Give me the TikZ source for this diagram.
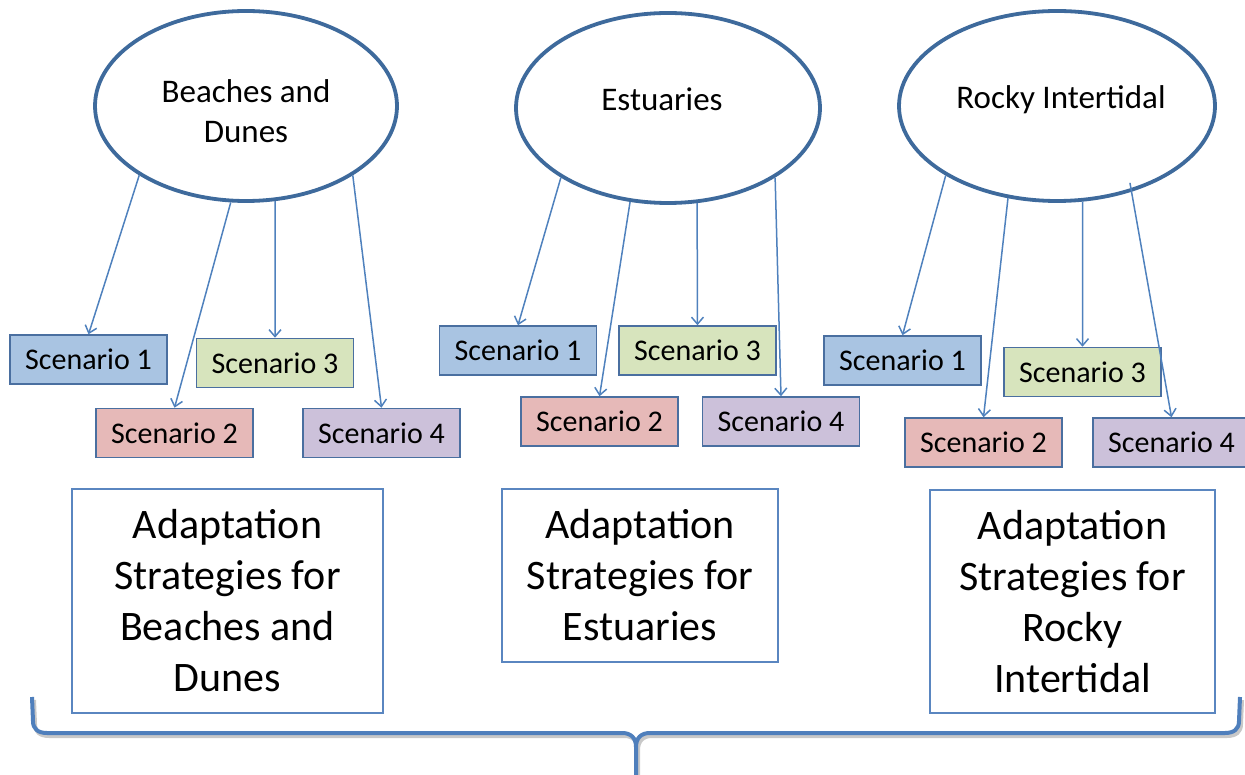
\documentclass[tikz,border=0pt]{standalone}
\usepackage{fontspec}
\setmainfont{Carlito}
\usetikzlibrary{shapes.geometric,arrows.meta}

\newlength{\du}
\setlength{\du}{1pt}

\definecolor{ellline}{HTML}{3E6A9C}
\definecolor{linkline}{HTML}{4F81BD}
\definecolor{scenline}{HTML}{4A6FA0}
\definecolor{stratline}{HTML}{5A86C0}
\definecolor{braceline}{HTML}{4F7FBC}
\definecolor{braceshadow}{HTML}{C8C8C8}
\definecolor{scenblue}{HTML}{A9C4E2}
\definecolor{scenred}{HTML}{E6B9B8}
\definecolor{scengreen}{HTML}{D7E4BD}
\definecolor{scenviolet}{HTML}{CCC1DA}

\tikzset{
  habitat/.style={ellipse, draw=ellline, line width=3.8\du, fill=white,
    minimum height=190\du, inner sep=0pt},
  habtext/.style={font=\fontsize{33}{40}\selectfont, align=center},
  scen/.style={rectangle, draw=scenline, line width=1.5\du,
    minimum width=157\du, minimum height=49\du, inner sep=0pt,
    font=\fontsize{30}{36}\selectfont},
  strat/.style={rectangle, draw=stratline, line width=2\du, fill=white,
    inner sep=0pt, align=center, font=\fontsize{42}{51}\selectfont},
  link/.style={draw=linkline, line width=1.5\du,
    -{Straight Barb[length=7pt,width=12pt]}},
}

\begin{document}
\begin{tikzpicture}
\pgftransformxscale{1.000000}
\pgftransformyscale{-1.000000}
\useasboundingbox (0\du,0\du) rectangle (1245\du,775\du);

% brace under the strategies
\draw[draw=braceline, line width=4\du, line join=round,
  preaction={draw=braceshadow, line width=4\du, transform canvas={xshift=2\du,yshift=-3\du}}]
  (32\du,697\du) -- (33\du,721\du) .. controls (33\du,729\du) and (38\du,733\du) .. (47\du,733\du)
  -- (622\du,733\du) .. controls (631\du,733\du) and (636\du,738\du) .. (636\du,747\du)
  -- (636\du,776\du)
  (636\du,747\du) .. controls (636\du,738\du) and (641\du,733\du) .. (650\du,733\du)
  -- (1225\du,733\du) .. controls (1234\du,733\du) and (1239\du,729\du) .. (1239\du,721\du)
  -- (1240\du,697\du);

% strategy boxes
\node[strat, minimum width=311\du, minimum height=224\du] (sbeach) at (227.5\du,601\du)
  {Adaptation\\Strategies for\\Beaches and\\Dunes};
\node[strat, minimum width=276\du, minimum height=173\du] (sestuary) at (640\du,575.5\du)
  {Adaptation\\Strategies for\\Estuaries};
\node[strat, minimum width=285\du, minimum height=223\du] (srocky) at (1072.5\du,601.5\du)
  {Adaptation\\Strategies for\\Rocky\\Intertidal};

% habitats
\node[habitat, minimum width=302\du,
  label={[habtext, yshift=-5\du]center:Beaches and\\Dunes}] (beach) at (246\du,106\du) {};
\node[habitat, minimum width=304\du,
  label={[habtext, xshift=-6\du, yshift=9\du]center:Estuaries}] (estuary) at (668\du,108\du) {};
\node[habitat, minimum width=316\du,
  label={[habtext, xshift=4\du, yshift=6\du]center:Rocky Intertidal}] (rocky) at (1057\du,106\du) {};

% scenarios, beaches and dunes
\node[scen, fill=scenblue] (b1) at (88.5\du,359.5\du) {Scenario 1};
\node[scen, fill=scenred] (b2) at (174.5\du,433\du) {Scenario 2};
\node[scen, fill=scengreen] (b3) at (275\du,363\du) {Scenario 3};
\node[scen, fill=scenviolet] (b4) at (381.5\du,433\du) {Scenario 4};

% scenarios, estuaries
\node[scen, fill=scenblue] (e1) at (518\du,350.5\du) {Scenario 1};
\node[scen, fill=scenred] (e2) at (599.5\du,421.5\du) {Scenario 2};
\node[scen, fill=scengreen] (e3) at (697.5\du,350.5\du) {Scenario 3};
\node[scen, fill=scenviolet] (e4) at (781\du,421.5\du) {Scenario 4};

% scenarios, rocky intertidal
\node[scen, fill=scenblue] (r1) at (902.5\du,360.5\du) {Scenario 1};
\node[scen, fill=scenred] (r2) at (983.5\du,442.5\du) {Scenario 2};
\node[scen, fill=scengreen] (r3) at (1082.5\du,372\du) {Scenario 3};
\node[scen, fill=scenviolet] (r4) at (1171.5\du,442.5\du) {Scenario 4};

% links
\draw[link] (beach.213) -- (b1.north);
\draw[link] (beach.261) -- (b2.north);
\draw[link] (beach.287) -- (b3.north);
\draw[link] (beach.327) -- (b4.north);
\draw[link] (estuary.213) -- (e1.north);
\draw[link] (estuary.248) -- (e2.north);
\draw[link] (estuary.287) -- (e3.north);
\draw[link] (estuary.327) -- (e4.north);
\draw[link] (rocky.212) -- (r1.north);
\draw[link] (rocky.242) -- (r2.north);
\draw[link] (rocky.285) -- (r3.north);
\draw[link, shorten <=-9pt] (rocky.311) -- (r4.north);
\end{tikzpicture}
\end{document}
